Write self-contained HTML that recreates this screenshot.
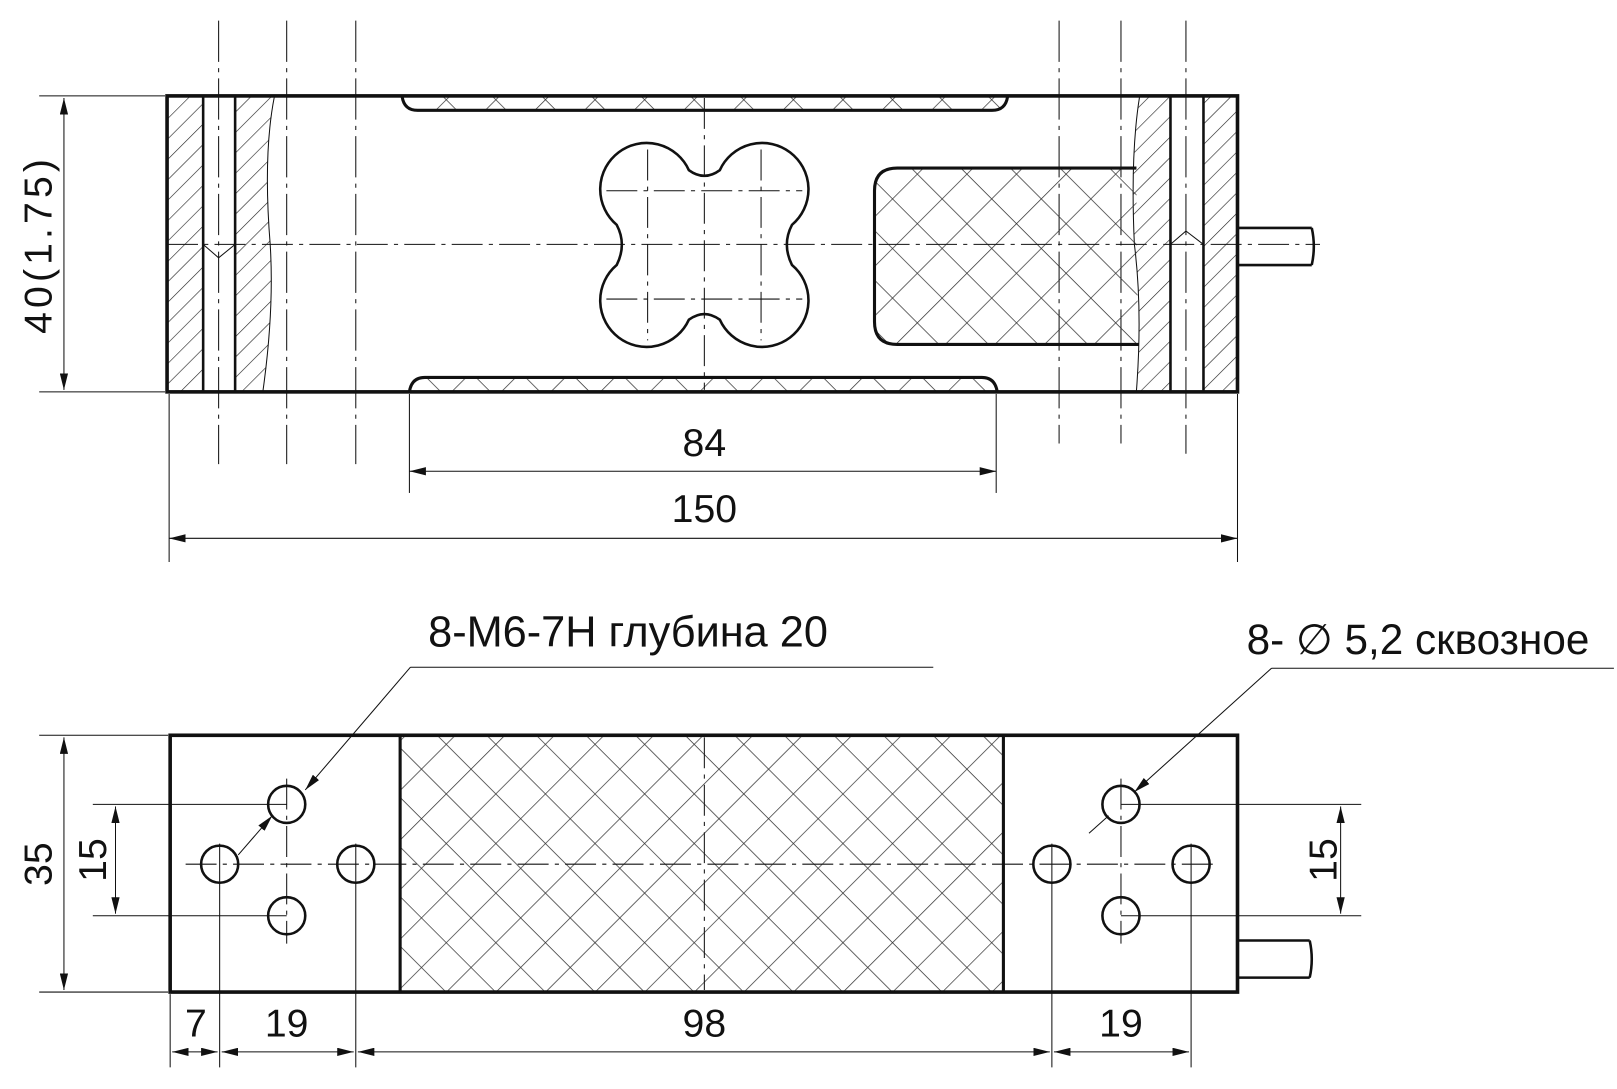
<!DOCTYPE html>
<html><head><meta charset="utf-8"><style>html,body{margin:0;padding:0;background:#fff}svg{display:block}</style></head>
<body>
<svg width="1617" height="1089" viewBox="0 0 1568 1056" xmlns="http://www.w3.org/2000/svg" font-family="Liberation Sans, DejaVu Sans, sans-serif">
<defs>
<pattern id="diag" patternUnits="userSpaceOnUse" width="14" height="14" patternTransform="rotate(45)">
<line x1="0" y1="0" x2="0" y2="14" stroke="#222" stroke-width="1.2"/></pattern>
<pattern id="cross" patternUnits="userSpaceOnUse" width="34" height="34" patternTransform="rotate(45)">
<line x1="0" y1="0" x2="0" y2="34" stroke="#333" stroke-width="1.4"/><line x1="0" y1="0" x2="34" y2="0" stroke="#333" stroke-width="1.4"/></pattern>
<marker id="ar" markerWidth="16" markerHeight="8" refX="16" refY="4" orient="auto" markerUnits="userSpaceOnUse"><path d="M0,0 L16,4 L0,8 Z" fill="#111"/></marker>
<marker id="al" markerWidth="16" markerHeight="8" refX="0" refY="4" orient="auto" markerUnits="userSpaceOnUse"><path d="M16,0 L0,4 L16,8 Z" fill="#111"/></marker>
</defs>
<g stroke="#111" fill="none">
<g stroke-width="1" stroke-dasharray="40,6,4,6">
<line x1="212" y1="20" x2="212" y2="450"/><line x1="278" y1="20" x2="278" y2="450"/><line x1="345" y1="20" x2="345" y2="450"/>
<line x1="1027" y1="20" x2="1027" y2="430"/><line x1="1087" y1="20" x2="1087" y2="430"/><line x1="1150" y1="20" x2="1150" y2="440"/>
</g>
<rect x="163" y="94" width="34" height="285" fill="url(#diag)" stroke="none"/>
<path d="M228,94 L266,94 Q255,150 262,237 Q266,300 255,379 L228,379 Z" fill="url(#diag)" stroke="none"/>
<path d="M266,94 Q255,150 262,237 Q266,300 255,379" stroke-width="1"/>
<rect x="1167" y="94" width="33" height="285" fill="url(#diag)" stroke="none"/>
<path d="M1135,94 L1105,94 Q1096,150 1100,237 Q1108,300 1102,379 L1135,379 Z" fill="url(#diag)" stroke="none"/>
<path d="M1105,94 Q1096,150 1100,237 Q1108,300 1102,379" stroke-width="1"/>
<g stroke-width="2.5"><line x1="197" y1="93" x2="197" y2="380"/><line x1="228" y1="93" x2="228" y2="380"/><line x1="1135" y1="93" x2="1135" y2="380"/><line x1="1167" y1="93" x2="1167" y2="380"/></g>
<path d="M197,237 L212,250 L228,237" stroke-width="1"/><path d="M1135,237 L1150,224 L1167,237" stroke-width="1"/>
<path d="M390,94 Q392,107 405,107 L962,107 Q975,107 977,94" fill="url(#cross)" stroke-width="3"/>
<path d="M397,380 Q399,366 412,366 L952,366 Q965,366 967,380" fill="url(#cross)" stroke-width="3"/>
<path d="M1102,163 L870,163 Q848,163 848,185 L848,312 Q848,334 870,334 L1104,334 Q1102,250 1102,163 Z" fill="url(#cross)" stroke="none"/>
<path d="M1102,163 L870,163 Q848,163 848,185 L848,312 Q848,334 870,334 L1104,334" stroke-width="3"/>
<path d="M598,218 A45,45 0 1 1 668,165 Q683,176 698,165 A45,45 0 1 1 768,218 Q758,237 768,257 A45,45 0 1 1 698,310 Q683,299 668,310 A45,45 0 1 1 598,257 Q608,237 598,218 Z" stroke-width="2.5"/>
<g stroke-width="1" stroke-dasharray="30,6,4,6">
<line x1="628" y1="145" x2="628" y2="330"/><line x1="738" y1="145" x2="738" y2="330"/><line x1="683" y1="95" x2="683" y2="378"/>
<line x1="588" y1="185" x2="778" y2="185"/><line x1="588" y1="290" x2="778" y2="290"/>
<line x1="162" y1="237" x2="1280" y2="237"/>
</g>
<rect x="162" y="93" width="1038" height="287" stroke-width="3.5"/>
<path d="M1200,221 L1272,221 M1200,257 L1272,257 M1272,221 Q1276,239 1272,257" stroke-width="2.5"/>
<g stroke-width="1">
<line x1="38" y1="93" x2="160" y2="93"/><line x1="38" y1="380" x2="160" y2="380"/>
<line x1="62" y1="95" x2="62" y2="378" marker-start="url(#al)" marker-end="url(#ar)"/>
<line x1="397" y1="382" x2="397" y2="478"/><line x1="966" y1="382" x2="966" y2="478"/>
<line x1="397" y1="457" x2="966" y2="457" marker-start="url(#al)" marker-end="url(#ar)"/>
<line x1="164" y1="382" x2="164" y2="545"/><line x1="1200" y1="382" x2="1200" y2="545"/>
<line x1="164" y1="522" x2="1200" y2="522" marker-start="url(#al)" marker-end="url(#ar)"/>
</g>
<rect x="388" y="713" width="585" height="249" fill="url(#cross)" stroke="none"/>
<rect x="165" y="713" width="1035" height="249" stroke-width="3.5"/>
<line x1="388" y1="713" x2="388" y2="962" stroke-width="3"/><line x1="973" y1="713" x2="973" y2="962" stroke-width="3"/>
<g stroke-width="1" stroke-dasharray="30,6,4,6"><line x1="180" y1="838" x2="1180" y2="838"/><line x1="683" y1="715" x2="683" y2="960"/>
<line x1="278" y1="755" x2="278" y2="915"/><line x1="1087" y1="755" x2="1087" y2="915"/></g>
<g stroke-width="2.5">
<circle cx="213" cy="838" r="18"/><circle cx="345" cy="838" r="18"/><circle cx="278" cy="780" r="18"/><circle cx="278" cy="888" r="18"/>
<circle cx="1020" cy="838" r="18"/><circle cx="1155" cy="838" r="18"/><circle cx="1087" cy="780" r="18"/><circle cx="1087" cy="888" r="18"/>
</g>
<path d="M1200,912 L1270,912 M1200,948 L1270,948 M1270,912 Q1274,930 1270,948" stroke-width="2.5"/>
<g stroke-width="1">
<line x1="213" y1="818" x2="213" y2="1035"/><line x1="345" y1="818" x2="345" y2="1035"/><line x1="1020" y1="818" x2="1020" y2="1035"/><line x1="1155" y1="818" x2="1155" y2="1035"/>
<line x1="165" y1="964" x2="165" y2="1035"/>
<line x1="38" y1="713" x2="163" y2="713"/><line x1="38" y1="962" x2="163" y2="962"/>
<line x1="62" y1="715" x2="62" y2="960" marker-start="url(#al)" marker-end="url(#ar)"/>
<line x1="90" y1="780" x2="278" y2="780"/><line x1="90" y1="888" x2="278" y2="888"/>
<line x1="112" y1="782" x2="112" y2="886" marker-start="url(#al)" marker-end="url(#ar)"/>
<line x1="1087" y1="780" x2="1320" y2="780"/><line x1="1087" y1="888" x2="1320" y2="888"/>
<line x1="1300" y1="782" x2="1300" y2="886" marker-start="url(#al)" marker-end="url(#ar)"/>
<line x1="167" y1="1020" x2="211" y2="1020" marker-start="url(#al)" marker-end="url(#ar)"/>
<line x1="215" y1="1020" x2="343" y2="1020" marker-start="url(#al)" marker-end="url(#ar)"/>
<line x1="347" y1="1020" x2="1018" y2="1020" marker-start="url(#al)" marker-end="url(#ar)"/>
<line x1="1022" y1="1020" x2="1153" y2="1020" marker-start="url(#al)" marker-end="url(#ar)"/>
<line x1="905" y1="647" x2="398" y2="647"/>
<line x1="398" y1="647" x2="296" y2="766" marker-end="url(#ar)"/>
<line x1="231" y1="829" x2="264" y2="791" marker-end="url(#ar)"/>
<line x1="1565" y1="648" x2="1233" y2="648"/>
<line x1="1233" y1="648" x2="1100" y2="768" marker-end="url(#ar)"/>
<line x1="1075" y1="791" x2="1056" y2="808"/>
</g>
</g>
<g fill="#111" font-size="38" text-anchor="middle">
<text x="683" y="442">84</text>
<text x="683" y="506">150</text>
<text transform="translate(50,237) rotate(-90)" font-size="38" letter-spacing="4">40(1.75)</text>
<text transform="translate(50,838) rotate(-90)">35</text>
<text transform="translate(103,834) rotate(-90)">15</text>
<text transform="translate(1296,834) rotate(-90)">15</text>
<text x="190" y="1005">7</text>
<text x="278" y="1005">19</text>
<text x="683" y="1005">98</text>
<text x="1087" y="1005">19</text>
<text x="609" y="627" font-size="42">8-M6-7H глубина 20</text>
<text x="1375" y="634" font-size="41">8- ∅ 5,2 сквозное</text>
</g>
</svg>
</body></html>
